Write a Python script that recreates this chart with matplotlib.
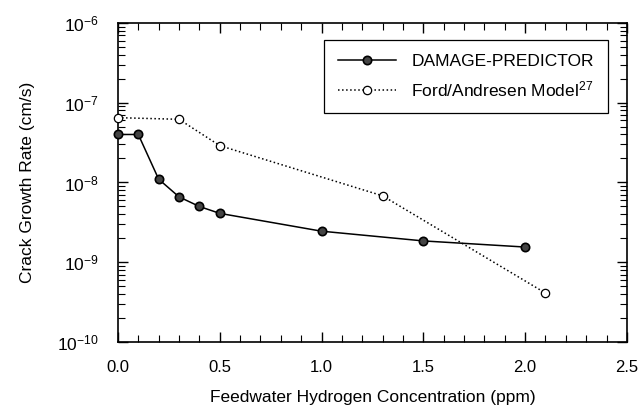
import matplotlib
matplotlib.use("Agg")
import matplotlib.pyplot as plt
from matplotlib.ticker import LogLocator, MultipleLocator, NullFormatter, FormatStrFormatter, FixedLocator

plt.rcParams['font.family'] = ['Liberation Sans', 'DejaVu Sans']
plt.rcParams['mathtext.fontset'] = 'custom'
plt.rcParams['mathtext.rm'] = 'Liberation Sans'
plt.rcParams['mathtext.it'] = 'Liberation Sans'
plt.rcParams['mathtext.default'] = 'regular'

dp_x = [0.0, 0.1, 0.2, 0.3, 0.4, 0.5, 1.0, 1.5, 2.0]
dp_y = [4.0e-8, 4.0e-8, 1.1e-8, 6.6e-9, 5.0e-9, 4.1e-9, 2.45e-9, 1.85e-9, 1.55e-9]
fa_x = [0.0, 0.3, 0.5, 1.3, 2.1]
fa_y = [6.5e-8, 6.2e-8, 2.9e-8, 6.8e-9, 4.1e-10]
y_ticks = [1e-10, 1e-9, 1e-8, 1e-7, 1e-6]
y_tick_labels = ['$10^{-10}$', '$10^{-9}$', '$10^{-8}$', '$10^{-7}$', '$10^{-6}$']

fig = plt.figure(figsize=(6.41, 4.11), dpi=100)
ax = fig.add_axes([0.184, 0.168, 0.794, 0.776])

ax.plot(dp_x, dp_y, '-', color='black', lw=1.1, marker='o', markersize=6,
        markerfacecolor='#444444', markeredgecolor='black', markeredgewidth=1.2,
        label='DAMAGE-PREDICTOR', clip_on=False, zorder=3)
ax.plot(fa_x, fa_y, ':', color='black', lw=1.1, marker='o', markersize=6,
        markerfacecolor='white', markeredgecolor='black', markeredgewidth=0.9,
        label='Ford/Andresen Model$^{27}$', clip_on=False, zorder=3)

ax.set_yscale('log')
ax.set_xlim(0, 2.5)
ax.set_ylim(1e-10, 1e-6)
ax.xaxis.set_major_locator(MultipleLocator(0.5))
ax.xaxis.set_minor_locator(MultipleLocator(0.1))
ax.xaxis.set_major_formatter(FormatStrFormatter('%.1f'))
ax.xaxis.set_minor_formatter(NullFormatter())
ax.set_yticks(y_ticks)
ax.set_yticklabels(y_tick_labels)
ax.yaxis.set_minor_locator(LogLocator(base=10, subs=range(2, 10), numticks=100))
ax.yaxis.set_minor_formatter(NullFormatter())
ax.set_ylim(1e-10, 1e-6)

ax.tick_params(which='both', direction='in', top=True, right=True)
ax.tick_params(axis='x', which='major', labelsize=12, pad=13)
ax.tick_params(axis='y', which='major', labelsize=12.5, pad=14)
ax.tick_params(which='major', length=7, width=1)
ax.tick_params(which='minor', length=5, width=0.8)
for s in ax.spines.values():
    s.set_linewidth(1.2)

ax.set_xlabel('Feedwater Hydrogen Concentration (ppm)', fontsize=12.5, labelpad=11)
ax.set_ylabel('Crack Growth Rate (cm/s)', fontsize=12.5, labelpad=16)

leg = ax.legend(loc='upper right', bbox_to_anchor=(0.962, 0.947), borderaxespad=0,
                fontsize=12.5, frameon=True, fancybox=False, edgecolor='black',
                framealpha=1, handlelength=3.3, borderpad=0.8, labelspacing=0.6,
                handletextpad=0.9)
leg.get_frame().set_linewidth(0.9)

fig.savefig('out.png', dpi=100)
